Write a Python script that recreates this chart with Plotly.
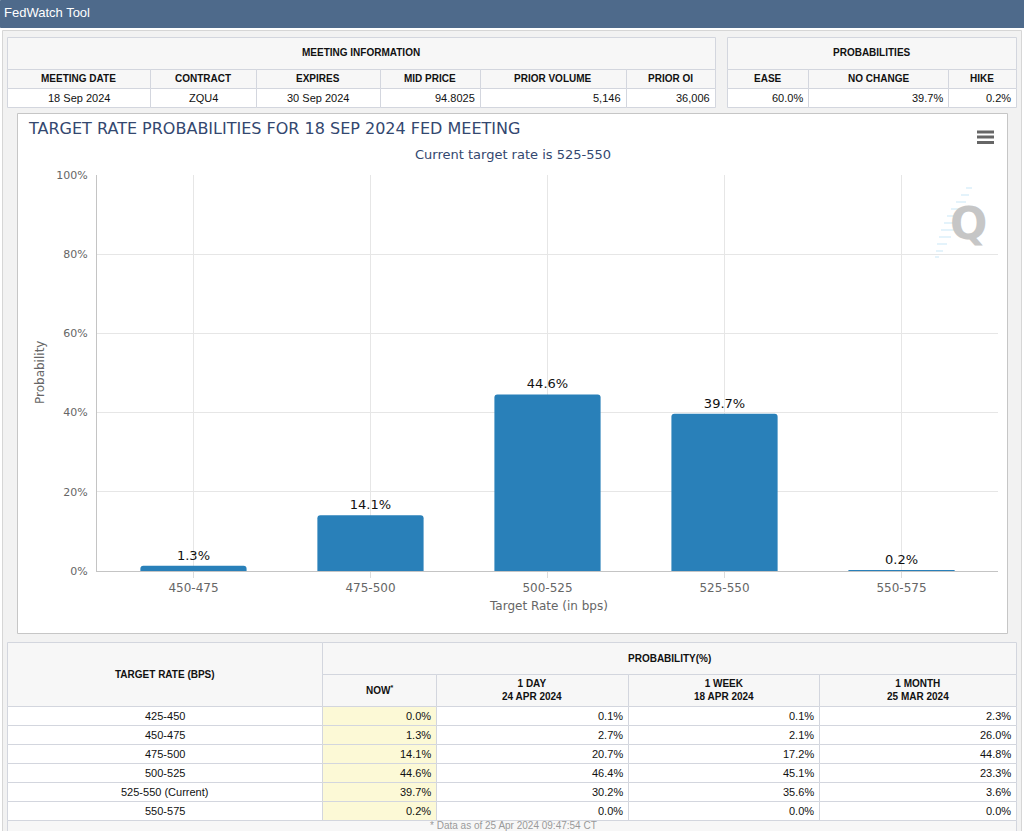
import plotly.graph_objects as go

W, H = 1024, 831


def px(x):
    return x / W


def py(y):
    return 1 - y / H


# ---------------- data ----------------
categories = ["450-475", "475-500", "500-525", "525-550", "550-575"]
probabilities = [1.3, 14.1, 44.6, 39.7, 0.2]
y_ticks = [0, 20, 40, 60, 80, 100]
y_tick_labels = ["0%", "20%", "40%", "60%", "80%", "100%"]

meeting_headers = ["MEETING DATE", "CONTRACT", "EXPIRES", "MID PRICE", "PRIOR VOLUME", "PRIOR OI"]
meeting_values = ["18 Sep 2024", "ZQU4", "30 Sep 2024", "94.8025", "5,146", "36,006"]
prob_headers = ["EASE", "NO CHANGE", "HIKE"]
prob_values = ["60.0%", "39.7%", "0.2%"]

rate_rows = ["425-450", "450-475", "475-500", "500-525", "525-550 (Current)", "550-575"]
now_vals = [0.0, 1.3, 14.1, 44.6, 39.7, 0.2]
day_vals = [0.1, 2.7, 20.7, 46.4, 30.2, 0.0]
week_vals = [0.1, 2.1, 17.2, 45.1, 35.6, 0.0]
month_vals = [2.3, 26.0, 44.8, 23.3, 3.6, 0.0]
period_headers = ["NOW<sup>*</sup>", "1 DAY<br>24 APR 2024", "1 WEEK<br>18 APR 2024", "1 MONTH<br>25 MAR 2024"]

chart_title = "TARGET RATE PROBABILITIES FOR 18 SEP 2024 FED MEETING"
chart_subtitle = "Current target rate is 525-550"
footer_note = "* Data as of 25 Apr 2024 09:47:54 CT"

# ---------------- styles ----------------
TABLE_FONT = "Liberation Sans, Arial, Helvetica, sans-serif"
CHART_FONT = "DejaVu Sans, Lucida Grande, sans-serif"
BORDER = "#d3d6de"
HEAD_BG = "#f7f7f7"
PAGE_BG = "#f2f2f2"
NOW_BG = "#fcf9d6"
TITLE_COLOR = "#33476f"
BAR_COLOR = "#2980b9"

shapes = []
annotations = []


def rect(x0, y0, x1, y1, fill, border=BORDER, width=1):
    shapes.append(dict(
        type="rect", xref="paper", yref="paper",
        x0=px(x0 + 0.5), x1=px(x1 + 0.5), y0=py(y1 + 0.5), y1=py(y0 + 0.5),
        fillcolor=fill, line=dict(color=border, width=width), layer="below"))


def hline(x0, x1, y, color, width=1):
    shapes.append(dict(type="line", xref="paper", yref="paper",
                       x0=px(x0), x1=px(x1), y0=py(y), y1=py(y),
                       line=dict(color=color, width=width), layer="above"))


def label(x, y, text, size=11, bold=False, anchor="center", color="#111",
          family=TABLE_FONT, angle=0):
    annotations.append(dict(
        xref="paper", yref="paper", x=px(x), y=py(y),
        text=f"<b>{text}</b>" if bold else text, showarrow=False,
        xanchor=anchor, yanchor="middle", textangle=angle, borderpad=0,
        font=dict(family=family, size=size, color=color)))


# ---------------- page frame ----------------
rect(0, 0, 1024, 27, "#4e6a8b", border="#4e6a8b")
label(3, 13, "FedWatch Tool", size=13, color="#ffffff", anchor="left")
rect(2, 30, 1021, 845, PAGE_BG, border="#d6d6d6")

# ---------------- meeting information table ----------------
m_edges = [7, 150, 256, 380, 480, 626, 715]
m_align = ["center", "center", "center", "right", "right", "right"]
rect(m_edges[0], 37, m_edges[-1], 69, HEAD_BG)
label((m_edges[0] + m_edges[-1]) / 2, 53, "MEETING INFORMATION", size=10, bold=True)
for i, (h, v) in enumerate(zip(meeting_headers, meeting_values)):
    a, b = m_edges[i], m_edges[i + 1]
    rect(a, 69, b, 88, HEAD_BG)
    rect(a, 88, b, 107, "#ffffff")
    label((a + b) / 2, 78.5, h, size=10, bold=True)
    if m_align[i] == "center":
        label((a + b) / 2, 98, v)
    else:
        label(b - 4, 98, v, anchor="right")

# ---------------- probabilities table ----------------
p_edges = [727, 808, 948, 1016]
rect(p_edges[0], 37, p_edges[-1], 69, HEAD_BG)
label((p_edges[0] + p_edges[-1]) / 2, 53, "PROBABILITIES", size=10, bold=True)
for i, (h, v) in enumerate(zip(prob_headers, prob_values)):
    a, b = p_edges[i], p_edges[i + 1]
    rect(a, 69, b, 88, HEAD_BG)
    rect(a, 88, b, 107, "#ffffff")
    label((a + b) / 2, 78.5, h, size=10, bold=True)
    label(b - 4, 98, v, anchor="right")

# ---------------- chart box ----------------
rect(17, 113, 1007, 633, "#ffffff", border="#c6c6c6")
label(27, 128, chart_title, size=16, color=TITLE_COLOR, anchor="left", family=CHART_FONT)
label(513, 154, chart_subtitle, size=13, color=TITLE_COLOR, family=CHART_FONT)
label(40, 373, "Probability", size=12, color="#666666", family=CHART_FONT, angle=-90)
label(548, 606, "Target Rate (in bps)", size=12, color="#666666", family=CHART_FONT)

# hamburger menu
for yy in (132, 137, 142.5):
    hline(977, 994, yy, "#666666", width=3)

# watermark logo
label(968, 224, "<b>Q</b>", size=44, color="#c6c6c6", family=CHART_FONT)
streaks = [(966, 972, 188), (961, 969, 195), (956, 966, 202), (951, 963, 209),
           (947, 960, 216), (944, 958, 223), (941, 955, 230), (939, 951, 237),
           (937, 947, 244), (936, 943, 251), (935, 939, 257)]
for a, b, yy in streaks:
    hline(a, b, yy, "rgba(190,225,245,0.55)", width=1.5)

# ---------------- bottom probability table ----------------
b_edges = [7, 322, 436, 628, 819, 1016]
row_top = 706
row_h = 19
rect(b_edges[0], 642, b_edges[1], 706, HEAD_BG)
label((b_edges[0] + b_edges[1]) / 2, 674, "TARGET RATE (BPS)", size=10, bold=True)
rect(b_edges[1], 642, b_edges[-1], 674, HEAD_BG)
label((b_edges[1] + b_edges[-1]) / 2, 658, "PROBABILITY(%)", size=10, bold=True)
for j, h in enumerate(period_headers):
    a, b = b_edges[j + 1], b_edges[j + 2]
    rect(a, 674, b, 706, HEAD_BG)
    label((a + b) / 2, 690, h, size=10, bold=True)

columns = [now_vals, day_vals, week_vals, month_vals]
for r, name in enumerate(rate_rows):
    y0 = row_top + r * row_h
    y1 = y0 + row_h
    rect(b_edges[0], y0, b_edges[1], y1, "#ffffff")
    label((b_edges[0] + b_edges[1]) / 2, (y0 + y1) / 2, name)
    for j, col in enumerate(columns):
        a, b = b_edges[j + 1], b_edges[j + 2]
        rect(a, y0, b, y1, NOW_BG if j == 0 else "#ffffff")
        label(b - 4, (y0 + y1) / 2, f"{col[r]:.1f}%", anchor="right")

foot_top = row_top + len(rate_rows) * row_h
rect(b_edges[0], foot_top, b_edges[-1], foot_top + 40, HEAD_BG)
label(513, foot_top + 5.5, footer_note, size=10, color="#9a9a9a")

# ---------------- bar chart ----------------
fig = go.Figure()
fig.add_trace(go.Bar(
    x=categories, y=probabilities, width=0.6,
    marker=dict(color=BAR_COLOR, line=dict(width=0), cornerradius=3),
    texttemplate="%{y:.1f}%", textposition="outside",
    textfont=dict(family=CHART_FONT, size=13, color="#111111"),
    cliponaxis=False, hoverinfo="skip", showlegend=False))

fig.update_layout(
    width=W, height=H,
    margin=dict(l=0, r=0, t=0, b=0, pad=0, autoexpand=False),
    paper_bgcolor="#ffffff",
    plot_bgcolor="rgba(0,0,0,0)",
    shapes=shapes,
    annotations=annotations,
    showlegend=False,
    bargap=0.4,
    xaxis=dict(
        domain=[px(97), px(998)], type="category", range=[-0.545, 4.545],
        automargin=False,
        showgrid=True, gridcolor="#e6e6e6", gridwidth=1,
        showline=True, linecolor="#c4c4c4", linewidth=1,
        ticks="outside", ticklen=6, tickcolor="#dcdcdc",
        tickfont=dict(family=CHART_FONT, size=12, color="#666666"),
        fixedrange=True),
    yaxis=dict(
        domain=[py(571), py(175)], range=[0, 100],
        automargin=False,
        tickmode="array", tickvals=y_ticks, ticktext=y_tick_labels,
        showgrid=True, gridcolor="#e6e6e6", gridwidth=1,
        zeroline=False, showline=True, linecolor="#c4c4c4", linewidth=1,
        ticklabelstandoff=6,
        tickfont=dict(family=CHART_FONT, size=11, color="#666666"),
        fixedrange=True),
)

fig.write_html("out.html", config={"displayModeBar": False},
               post_script="document.body.style.margin='0';document.body.style.overflow='hidden';")
